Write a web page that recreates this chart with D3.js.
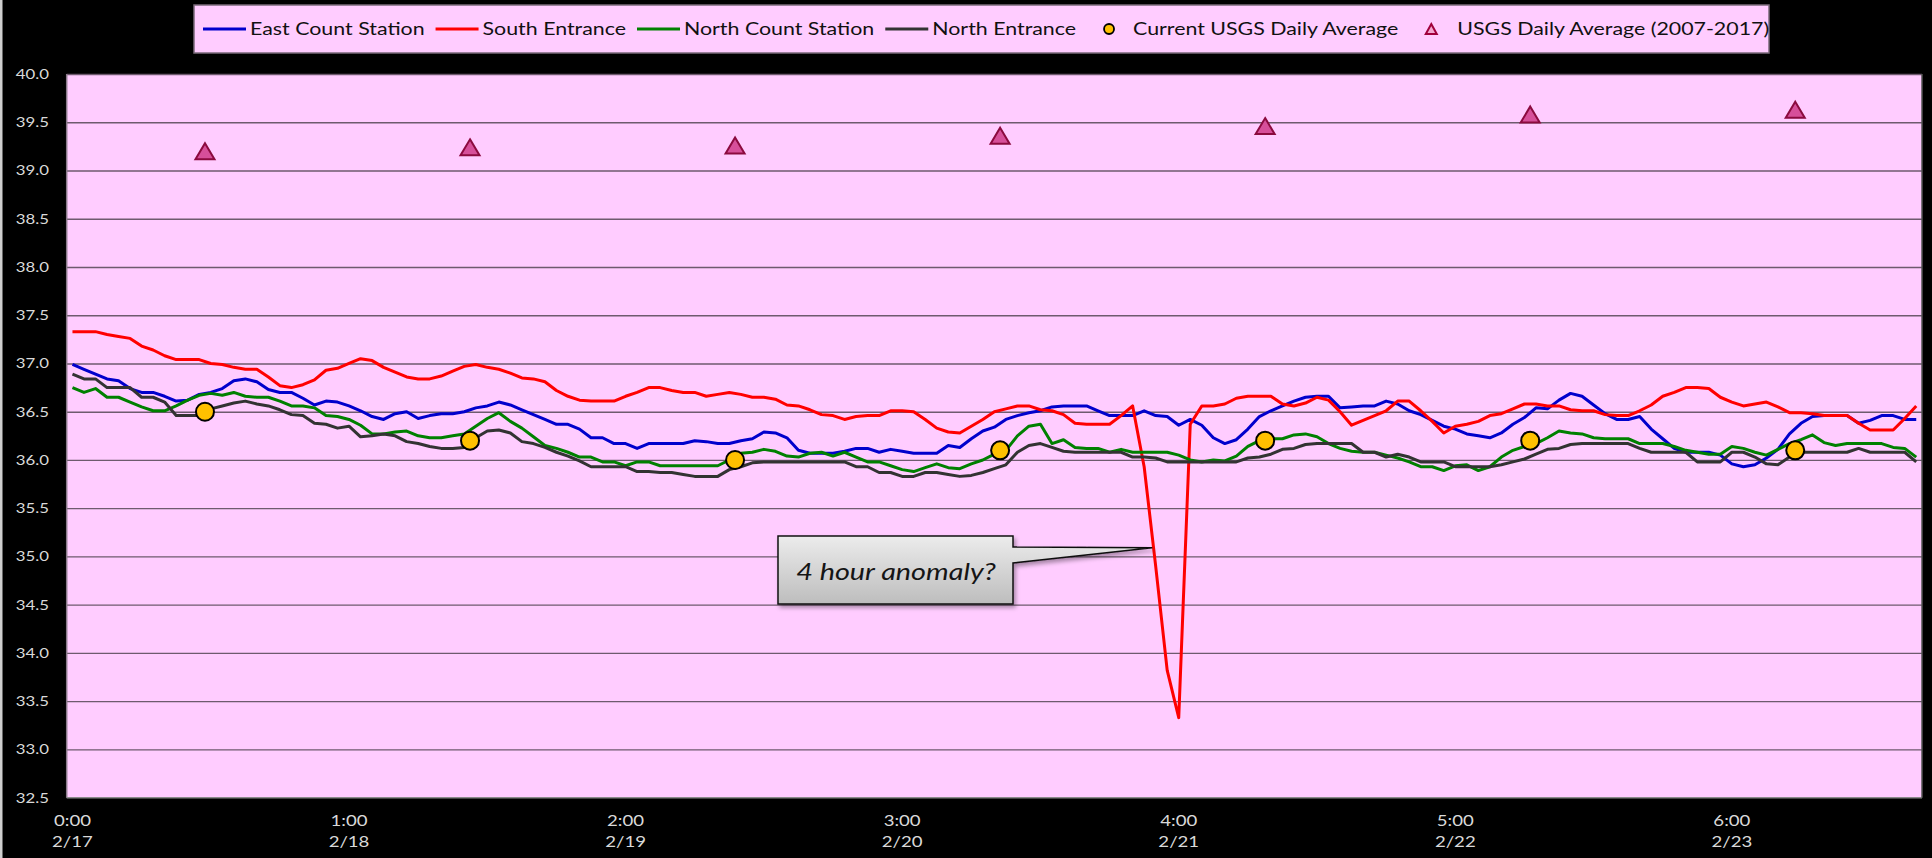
<!DOCTYPE html>
<html>
<head>
<meta charset="utf-8">
<script src="https://cdn.jsdelivr.net/npm/d3@7"></script>
<style>
  html, body { margin: 0; padding: 0; background: #000; }
  svg { display: block; }
</style>
</head>
<body>
<div id="chart"></div>
<script>
// ---- data ----
const seriesNames = ["East Count Station", "South Entrance", "North Count Station", "North Entrance"];
const seriesColors = ["#0000cc", "#ff0000", "#008000", "#333333"];

// hourly readings, 2/17 0:00 .. 2/23 16:00
const eastCount = [
  36.99, 36.94, 36.89, 36.84, 36.82, 36.74, 36.70, 36.70, 36.66, 36.61,
  36.62, 36.68, 36.70, 36.74, 36.82, 36.84, 36.81, 36.73, 36.70, 36.70,
  36.64, 36.57, 36.61, 36.60, 36.56, 36.51, 36.45, 36.42, 36.48, 36.50,
  36.43, 36.46, 36.48, 36.48, 36.50, 36.54, 36.56, 36.60, 36.57, 36.52,
  36.47, 36.42, 36.37, 36.37, 36.32, 36.23, 36.23, 36.17, 36.17, 36.12,
  36.17, 36.17, 36.17, 36.17, 36.20, 36.19, 36.17, 36.17, 36.20, 36.22,
  36.29, 36.28, 36.23, 36.10, 36.07, 36.07, 36.07, 36.09, 36.12, 36.12,
  36.08, 36.11, 36.09, 36.07, 36.07, 36.07, 36.15, 36.13, 36.22, 36.30,
  36.34, 36.42, 36.46, 36.49, 36.51, 36.55, 36.56, 36.56, 36.56, 36.51,
  36.46, 36.46, 36.46, 36.51, 36.46, 36.45, 36.36, 36.42, 36.36, 36.23,
  36.17, 36.21, 36.32, 36.45, 36.51, 36.56, 36.61, 36.65, 36.66, 36.66,
  36.54, 36.55, 36.56, 36.56, 36.61, 36.58, 36.51, 36.47, 36.41, 36.35,
  36.32, 36.27, 36.25, 36.23, 36.28, 36.37, 36.44, 36.54, 36.53, 36.62,
  36.69, 36.66, 36.57, 36.48, 36.42, 36.42, 36.45, 36.32, 36.22, 36.12,
  36.08, 36.08, 36.08, 36.05, 35.96, 35.93, 35.95, 36.02, 36.11, 36.27,
  36.38, 36.45, 36.46, 36.46, 36.46, 36.38, 36.41, 36.46, 36.46, 36.42, 36.42
];
const southEntrance = [
  37.33, 37.33, 37.33, 37.30, 37.28, 37.26, 37.18, 37.14, 37.08, 37.04,
  37.04, 37.04, 37.00, 36.99, 36.96, 36.94, 36.94, 36.86, 36.77, 36.75,
  36.78, 36.83, 36.93, 36.95, 37.00, 37.05, 37.03, 36.96, 36.91, 36.86,
  36.84, 36.84, 36.87, 36.92, 36.97, 36.99, 36.96, 36.94, 36.90, 36.85,
  36.84, 36.81, 36.72, 36.66, 36.62, 36.61, 36.61, 36.61, 36.66, 36.70,
  36.75, 36.75, 36.72, 36.70, 36.70, 36.66, 36.68, 36.70, 36.68, 36.65,
  36.65, 36.63, 36.57, 36.56, 36.52, 36.47, 36.46, 36.42, 36.45, 36.46,
  36.46, 36.51, 36.51, 36.50, 36.42, 36.33, 36.29, 36.28, 36.35, 36.42,
  36.50, 36.53, 36.56, 36.56, 36.52, 36.51, 36.47, 36.38, 36.37, 36.37,
  36.37, 36.46, 36.56, 35.93, 34.90, 33.82, 33.33, 36.37, 36.56, 36.56,
  36.58, 36.64, 36.66, 36.66, 36.66, 36.58, 36.56, 36.59, 36.65, 36.62,
  36.50, 36.36, 36.41, 36.46, 36.51, 36.61, 36.61, 36.51, 36.40, 36.28,
  36.35, 36.37, 36.40, 36.46, 36.48, 36.53, 36.58, 36.58, 36.56, 36.56,
  36.52, 36.51, 36.51, 36.47, 36.46, 36.46, 36.51, 36.57, 36.66, 36.70,
  36.75, 36.75, 36.74, 36.65, 36.60, 36.56, 36.58, 36.60, 36.55, 36.49,
  36.49, 36.48, 36.46, 36.46, 36.46, 36.38, 36.31, 36.31, 36.31, 36.43, 36.56
];
const northCount = [
  36.75, 36.70, 36.74, 36.65, 36.65, 36.60, 36.55, 36.51, 36.51, 36.56,
  36.62, 36.67, 36.69, 36.67, 36.70, 36.66, 36.65, 36.65, 36.61, 36.56,
  36.56, 36.54, 36.46, 36.45, 36.42, 36.36, 36.27, 36.27, 36.29, 36.30,
  36.25, 36.23, 36.23, 36.25, 36.27, 36.35, 36.43, 36.49, 36.40, 36.33,
  36.24, 36.15, 36.12, 36.08, 36.03, 36.03, 35.98, 35.98, 35.94, 35.98,
  35.98, 35.94, 35.94, 35.94, 35.94, 35.94, 35.94, 36.00, 36.07, 36.08,
  36.11, 36.09, 36.04, 36.03, 36.07, 36.08, 36.04, 36.08, 36.03, 35.98,
  35.98, 35.94, 35.90, 35.88, 35.92, 35.96, 35.92, 35.91, 35.96, 36.00,
  36.06, 36.10, 36.25, 36.35, 36.37, 36.17, 36.21, 36.13, 36.12, 36.12,
  36.08, 36.11, 36.08, 36.08, 36.08, 36.08, 36.05, 36.00, 35.98, 36.00,
  35.99, 36.04, 36.14, 36.20, 36.22, 36.22, 36.26, 36.27, 36.24, 36.17,
  36.12, 36.09, 36.08, 36.08, 36.05, 36.02, 35.98, 35.93, 35.93, 35.89,
  35.94, 35.95, 35.89, 35.93, 36.03, 36.10, 36.14, 36.17, 36.23, 36.30,
  36.28, 36.27, 36.23, 36.22, 36.22, 36.22, 36.17, 36.17, 36.17, 36.14,
  36.10, 36.08, 36.06, 36.06, 36.14, 36.12, 36.08, 36.05, 36.11, 36.17,
  36.21, 36.26, 36.18, 36.15, 36.17, 36.17, 36.17, 36.17, 36.13, 36.12, 36.03
];
const northEntrance = [
  36.89, 36.84, 36.84, 36.75, 36.75, 36.75, 36.65, 36.65, 36.60, 36.46,
  36.46, 36.46, 36.53, 36.56, 36.59, 36.61, 36.58, 36.56, 36.52, 36.47,
  36.46, 36.38, 36.37, 36.33, 36.35, 36.24, 36.25, 36.27, 36.25, 36.19,
  36.17, 36.14, 36.12, 36.12, 36.13, 36.23, 36.30, 36.31, 36.28, 36.19,
  36.17, 36.13, 36.08, 36.04, 35.99, 35.93, 35.93, 35.93, 35.93, 35.88,
  35.88, 35.87, 35.87, 35.85, 35.83, 35.83, 35.83, 35.90, 35.93, 35.97,
  35.98, 35.98, 35.98, 35.98, 35.98, 35.98, 35.98, 35.98, 35.93, 35.93,
  35.87, 35.87, 35.83, 35.83, 35.87, 35.87, 35.85, 35.83, 35.84, 35.87,
  35.91, 35.95, 36.08, 36.15, 36.17, 36.13, 36.09, 36.08, 36.08, 36.08,
  36.08, 36.08, 36.03, 36.03, 36.02, 35.98, 35.98, 35.98, 35.98, 35.98,
  35.98, 35.98, 36.02, 36.03, 36.06, 36.11, 36.12, 36.16, 36.17, 36.17,
  36.17, 36.17, 36.08, 36.08, 36.03, 36.06, 36.03, 35.98, 35.98, 35.98,
  35.93, 35.93, 35.93, 35.93, 35.95, 35.98, 36.01, 36.06, 36.11, 36.12,
  36.16, 36.17, 36.17, 36.17, 36.17, 36.17, 36.12, 36.08, 36.08, 36.08,
  36.08, 35.98, 35.98, 35.98, 36.08, 36.08, 36.03, 35.96, 35.95, 36.03,
  36.08, 36.08, 36.08, 36.08, 36.08, 36.12, 36.08, 36.08, 36.08, 36.08, 35.98
];

// daily averages (placed mid-day)
const avgHours = [11.5, 34.5, 57.5, 80.5, 103.5, 126.5, 149.5];
const currentUsgsAvg = [36.5, 36.2, 36.0, 36.1, 36.2, 36.2, 36.1];
const historicUsgsAvg = [39.20, 39.24, 39.26, 39.36, 39.46, 39.58, 39.63];

// axis ticks
const tickHours = [0, 24, 48, 72, 96, 120, 144];
const tickTimes = ["0:00", "1:00", "2:00", "3:00", "4:00", "5:00", "6:00"];
const tickDates = ["2/17", "2/18", "2/19", "2/20", "2/21", "2/22", "2/23"];
const yTicks = [32.5, 33.0, 33.5, 34.0, 34.5, 35.0, 35.5, 36.0, 36.5, 37.0, 37.5, 38.0, 38.5, 39.0, 39.5, 40.0];

const legendNames = seriesNames.concat(["Current USGS Daily Average", "USGS Daily Average (2007-2017)"]);

// ---- layout ----
const W = 1932, H = 858;
const plotL = 66.7, plotR = 1922, plotT = 74, plotB = 797.7;
const SX = 1.2;              // text looks horizontally stretched in the original
const FONT = "Lato, 'Open Sans', sans-serif";
const TXT = "#d9d9d9";

const x = d3.scaleLinear().domain([-0.5, southEntrance.length - 0.5]).range([plotL, plotR]);
const y = d3.scaleLinear().domain([32.5, 40]).range([plotB, plotT]);

const svg = d3.select("#chart").append("svg")
  .attr("width", W)
  .attr("height", H);

const defs = svg.append("defs");
const grad = defs.append("linearGradient").attr("id", "calloutFill")
  .attr("x1", 0).attr("y1", 0).attr("x2", 0).attr("y2", 1);
grad.append("stop").attr("offset", "0%").attr("stop-color", "#ececec");
grad.append("stop").attr("offset", "100%").attr("stop-color", "#bdbdbd");
defs.append("filter").attr("id", "shadow")
  .attr("x", "-10%").attr("y", "-10%").attr("width", "130%").attr("height", "140%")
  .append("feDropShadow")
  .attr("dx", 2).attr("dy", 3).attr("stdDeviation", 2)
  .attr("flood-color", "#000").attr("flood-opacity", 0.35);

// background
svg.append("rect").attr("width", W).attr("height", H).attr("fill", "#000");
svg.append("rect").attr("x", 0).attr("y", 0).attr("width", 2.5).attr("height", H).attr("fill", "#cfcfcf");

// plot area
svg.append("rect")
  .attr("x", plotL).attr("y", plotT)
  .attr("width", plotR - plotL).attr("height", plotB - plotT)
  .attr("fill", "#ffccff");

// gridlines
const grid = svg.append("g")
  .attr("transform", `translate(${plotL},0)`)
  .call(d3.axisLeft(y).tickValues(yTicks).tickFormat("").tickSize(-(plotR - plotL)));
grid.select(".domain").remove();
grid.selectAll(".tick line")
  .attr("stroke", d => d === 32.5 ? "none" : "#6e5a6e")
  .attr("stroke-width", 1.3);

// frame
svg.append("line").attr("x1", plotL).attr("x2", plotL).attr("y1", plotT).attr("y2", plotB)
  .attr("stroke", "#8a7a8a").attr("stroke-width", 1.5);
svg.append("line").attr("x1", plotL).attr("x2", plotR).attr("y1", plotB).attr("y2", plotB)
  .attr("stroke", "#8a8a8a").attr("stroke-width", 1.5);
svg.append("line").attr("x1", plotR).attr("x2", plotR).attr("y1", plotT).attr("y2", plotB)
  .attr("stroke", "#555").attr("stroke-width", 1.5);

// y labels
svg.append("g").selectAll("text")
  .data(yTicks)
  .join("text")
    .attr("transform", d => `translate(49,${y(d) + 5}) scale(${SX},1)`)
    .attr("text-anchor", "end")
    .attr("font-family", FONT)
    .attr("font-size", 14)
    .attr("fill", TXT)
    .text(d3.format(".1f"));

// x labels
const xLab = svg.append("g").selectAll("g")
  .data(tickHours)
  .join("g")
    .attr("transform", d => `translate(${x(d)},0)`);
xLab.append("text")
  .attr("transform", `translate(0,825.5) scale(${SX},1)`)
  .attr("text-anchor", "middle")
  .attr("font-family", FONT).attr("font-size", 15.5).attr("fill", TXT)
  .text((d, i) => tickTimes[i]);
xLab.append("text")
  .attr("transform", `translate(0,846.5) scale(${SX},1)`)
  .attr("text-anchor", "middle")
  .attr("font-family", FONT).attr("font-size", 15.5).attr("fill", TXT)
  .text((d, i) => tickDates[i]);

// lines
const line = d3.line()
  .x((d, i) => x(i))
  .y(d => y(d));

[eastCount, southEntrance, northCount, northEntrance].forEach((vals, k) => {
  svg.append("path")
    .datum(vals)
    .attr("fill", "none")
    .attr("stroke", seriesColors[k])
    .attr("stroke-width", 3)
    .attr("stroke-linejoin", "round")
    .attr("d", line);
});

// markers
function triPath(w, h) {
  return `M0,${-h / 2}L${w / 2},${h / 2}L${-w / 2},${h / 2}Z`;
}

svg.append("g").selectAll("circle")
  .data(currentUsgsAvg)
  .join("circle")
    .attr("cx", (d, i) => x(avgHours[i]))
    .attr("cy", d => y(d))
    .attr("r", 9)
    .attr("fill", "#ffc000")
    .attr("stroke", "#000")
    .attr("stroke-width", 2);

svg.append("g").selectAll("path")
  .data(historicUsgsAvg)
  .join("path")
    .attr("transform", (d, i) => `translate(${x(avgHours[i])},${y(d)})`)
    .attr("d", triPath(19, 16))
    .attr("fill", "#d64f9a")
    .attr("stroke", "#8b0a3f")
    .attr("stroke-width", 2);

// callout
const tipX = x(93.7), tipY = y(35.09);
const cb = { l: 778, t: 536, r: 1013, b: 604, p1: 547, p2: 563 };
svg.append("path")
  .attr("d", `M${cb.l},${cb.t}H${cb.r}V${cb.p1}L${tipX},${tipY}L${cb.r},${cb.p2}V${cb.b}H${cb.l}Z`)
  .attr("fill", "url(#calloutFill)")
  .attr("stroke", "#111")
  .attr("stroke-width", 1.5)
  .attr("filter", "url(#shadow)");
svg.append("text")
  .attr("transform", `translate(896,580) scale(${SX},1)`)
  .attr("text-anchor", "middle")
  .attr("font-family", FONT)
  .attr("font-style", "italic")
  .attr("font-size", 24)
  .attr("fill", "#151515")
  .text("4 hour anomaly?");

// legend
const legend = svg.append("g");
legend.append("rect")
  .attr("x", 194).attr("y", 5)
  .attr("width", 1769 - 194).attr("height", 48)
  .attr("fill", "#ffccff")
  .attr("stroke", "#7a6a7a")
  .attr("stroke-width", 1.5);

const legY = 29;
let cx = 203;
legendNames.forEach((name, i) => {
  let tx;
  if (i < 4) {
    legend.append("line")
      .attr("x1", cx).attr("x2", cx + 43)
      .attr("y1", legY).attr("y2", legY)
      .attr("stroke", seriesColors[i]).attr("stroke-width", 3);
    tx = cx + 47;
  } else if (i === 4) {
    legend.append("circle")
      .attr("cx", cx + 7).attr("cy", legY).attr("r", 5)
      .attr("fill", "#ffc000").attr("stroke", "#000").attr("stroke-width", 1.8);
    tx = cx + 31;
  } else {
    legend.append("path")
      .attr("transform", `translate(${cx + 7},${legY})`)
      .attr("d", triPath(11, 10))
      .attr("fill", "#f3a6d0").attr("stroke", "#a0003c").attr("stroke-width", 2);
    tx = cx + 33;
  }
  const t = legend.append("text")
    .attr("transform", `translate(${tx},${legY + 6.3}) scale(${SX},1)`)
    .attr("font-family", FONT)
    .attr("font-size", 17.8)
    .attr("fill", "#111")
    .text(name);
  const w = t.node().getComputedTextLength() * SX;
  cx = tx + w + (i + 1 < 4 ? 11 : 26);
});
</script>
</body>
</html>
